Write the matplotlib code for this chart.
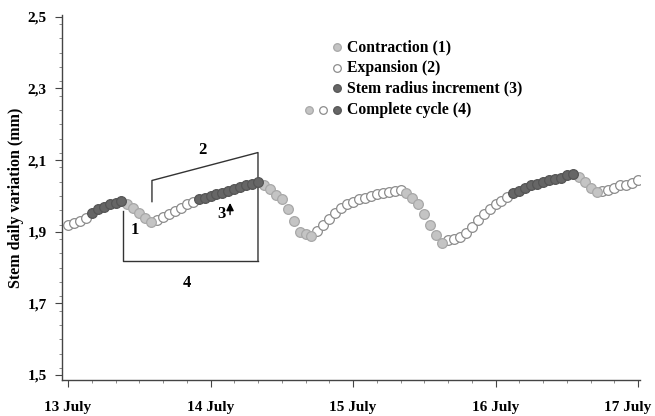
import numpy as np
import matplotlib
matplotlib.use("Agg")
import matplotlib.pyplot as plt
import matplotlib.transforms as mtransforms
from matplotlib.ticker import MultipleLocator

plt.rcParams["font.family"] = ["Liberation Serif", "DejaVu Serif"]
plt.rcParams["font.weight"] = "bold"

# hourly readings, 13 July 00:00 -> 17 July 00:00
stem = [
    1.920, 1.925, 1.931, 1.939, 1.953, 1.962, 1.970, 1.976, 1.981, 1.987,
    1.978, 1.967, 1.953, 1.939, 1.928, 1.934, 1.942, 1.950, 1.959, 1.967,
    1.976, 1.984, 1.992, 1.995, 2.001, 2.006, 2.009, 2.015, 2.020, 2.026,
    2.029, 2.034, 2.040, 2.031, 2.020, 2.003, 1.990, 1.964, 1.931, 1.900,
    1.894, 1.889, 1.903, 1.920, 1.936, 1.953, 1.967, 1.976, 1.984, 1.990,
    1.995, 2.001, 2.006, 2.009, 2.012, 2.015, 2.017, 2.009, 1.995, 1.976,
    1.950, 1.919, 1.892, 1.869, 1.878, 1.880, 1.886, 1.897, 1.914, 1.934,
    1.950, 1.964, 1.976, 1.987, 1.998, 2.009, 2.015, 2.023, 2.029, 2.034,
    2.040, 2.043, 2.048, 2.051, 2.057, 2.062, 2.054, 2.040, 2.023, 2.012,
    2.015, 2.017, 2.023, 2.029, 2.031, 2.037, 2.043,
]
# 1 = contraction, 2 = expansion, 3 = stem radius increment
phase = (
    [2] * 4 + [3] * 6 + [1] * 5 + [2] * 7 + [3] * 11 + [1] * 9 + [2] * 15
    + [1] * 7 + [2] * 11 + [3] * 11 + [1] * 4 + [2] * 7
)
day_labels = ["13 July", "14 July", "15 July", "16 July", "17 July"]
y_labels = ["1,5", "1,7", "1,9", "2,1", "2,3", "2,5"]
y_ticks = [1.5, 1.7, 1.9, 2.1, 2.3, 2.5]

# bracket annotation (day, mm)
bracket2_x = [0.589, 0.589, 1.333, 1.333]
bracket2_y = [1.984, 2.043, 2.121, 1.819]
bracket4_x = [0.386, 0.386, 1.333]
bracket4_y = [1.959, 1.819, 1.819]

t = np.arange(len(stem)) / 24.0
stem = np.array(stem)
phase = np.array(phase)

styles = {
    1: dict(mfc="#c4c4c4", mec="#a8a8a8"),
    2: dict(mfc="white", mec="#8c8c8c"),
    3: dict(mfc="#666666", mec="#555555"),
}

fig = plt.figure(figsize=(6.55, 4.16), dpi=100)
ax = fig.add_axes([0.0947, 0.0865, 0.8825, 0.8775])

for p in [2, 1, 3]:
    m = phase == p
    ax.plot(t[m], stem[m], ls="none", marker="o", ms=7.0, mew=0.9,
            zorder=3, **styles[p])

# brackets
ax.plot(bracket2_x, bracket2_y, color="#333333", lw=1.0, zorder=2)
ax.plot(bracket4_x, bracket4_y, color="#333333", lw=1.0, zorder=2)
ax.text(0.470, 1.905, "1", fontsize=12, ha="center", va="center")
ax.text(0.945, 2.127, "2", fontsize=12, ha="center", va="center")
ax.text(1.075, 1.950, "3", fontsize=12, ha="center", va="center")
ax.text(0.835, 1.757, "4", fontsize=12, ha="center", va="center")
ax.annotate("", xy=(1.137, 1.988), xytext=(1.137, 1.940),
            arrowprops=dict(arrowstyle="-|>", color="black", lw=1.0,
                            mutation_scale=11))

# legend drawn by hand
leg_items = [("Contraction (1)", [1]), ("Expansion (2)", [2]),
             ("Stem radius increment (3)", [3]), ("Complete cycle (4)", [1, 2, 3])]
leg_y = [0.912, 0.856, 0.799, 0.741]
for (lab, ps), yy in zip(leg_items, leg_y):
    xs = [0.476 - 0.0245 * (len(ps) - 1 - i) for i in range(len(ps))]
    for xx, p in zip(xs, ps):
        ax.plot([xx], [yy], transform=ax.transAxes, marker="o", ms=5.5,
                mew=0.9, clip_on=False, **styles[p])
    ax.text(0.493, yy, lab, transform=ax.transAxes, fontsize=11.3,
            va="center", ha="left")

ax.set_xlim(-0.042, 4.014)
ax.set_ylim(1.486, 2.505)
ax.set_xticks(range(5))
ax.set_xticklabels(day_labels, fontsize=11, fontweight="bold")
ax.xaxis.set_minor_locator(MultipleLocator(1 / 6))
ax.set_yticks(y_ticks)
ax.set_yticklabels(y_labels, fontsize=11, fontweight="bold")
ax.yaxis.set_minor_locator(MultipleLocator(0.04))
ax.set_ylabel("Stem daily variation (mm)", fontsize=11.5, fontweight="bold")
ax.yaxis.set_label_coords(-0.065, 0.5)

for s in ["top", "right"]:
    ax.spines[s].set_visible(False)
for s in ["left", "bottom"]:
    ax.spines[s].set_color("#444444")
    ax.spines[s].set_linewidth(1.0)
ax.tick_params(which="major", length=5, color="#444444", pad=6)
ax.tick_params(which="minor", length=2.5, color="#777777")
ax.tick_params(axis="x", which="major", pad=10)

# last date label sits left of its tick so it stays inside the figure
last = ax.xaxis.get_major_ticks()[-1].label1
last.set_transform(last.get_transform() +
                   mtransforms.ScaledTranslation(-0.10, 0, fig.dpi_scale_trans))

fig.savefig("out.png", dpi=100)
